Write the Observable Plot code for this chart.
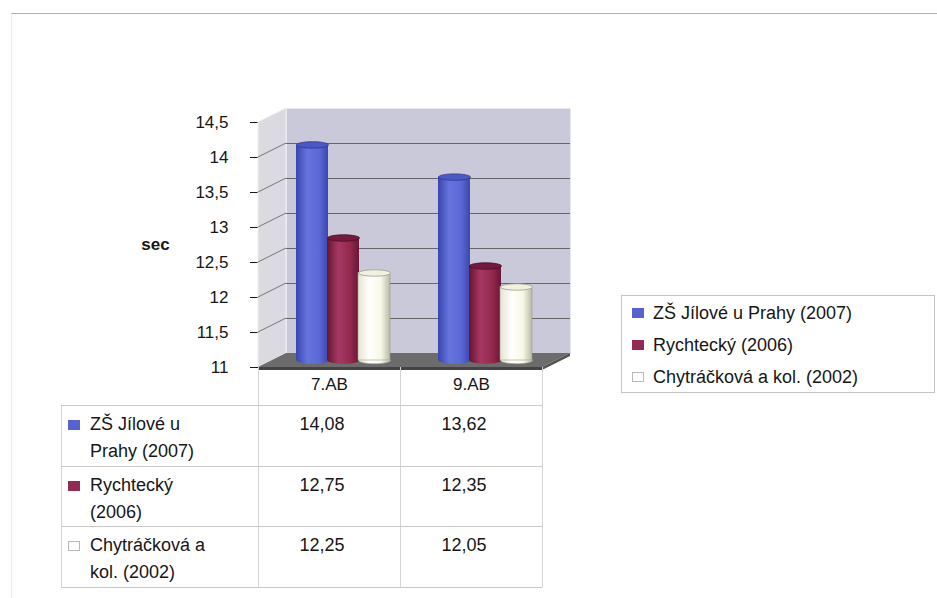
<!DOCTYPE html>
<html>
<head>
<meta charset="utf-8">
<script src="https://cdn.jsdelivr.net/npm/d3@7"></script>
<script src="https://cdn.jsdelivr.net/npm/@observablehq/plot@0.6"></script>
<style>
  body { margin: 0; background: #fff; }
  #chart { position: relative; width: 937px; height: 598px; font-family: "Liberation Sans", Arial, sans-serif; color: #161616; }
  #chart svg { position: absolute; left: 0; top: 0; }
  .abs { position: absolute; }
  .hl { position: absolute; height: 1px; background: #c9c9c9; }
  .vl { position: absolute; width: 1px; background: #d4d4d4; }
  .cell { position: absolute; font-size: 18px; line-height: 27px; white-space: nowrap; }
  .sw { position: absolute; width: 12px; height: 10px; box-sizing: border-box; }
</style>
</head>
<body>
<div id="chart"></div>
<script>
// Categories (classes) and the three compared studies
const groups = ["7.AB", "9.AB"];
const series = ["ZŠ Jílové u Prahy (2007)", "Rychtecký (2006)", "Chytráčková a kol. (2002)"];
const tableLabels = [["ZŠ Jílové u", "Prahy (2007)"], ["Rychtecký", "(2006)"], ["Chytráčková a", "kol. (2002)"]];

// Running times in seconds, one value per class
const valuesJilove = [14.08, 13.62];
const valuesRychtecky = [12.75, 12.35];
const valuesChytrackova = [12.25, 12.05];
const seriesValues = [valuesJilove, valuesRychtecky, valuesChytrackova];

// Value axis
const yDomain = [11, 14.5];
const yTicks = [11, 11.5, 12, 12.5, 13, 13.5, 14, 14.5];
const yLabel = "sec";

// Colours
const swatchColors = ["#5662d2", "#922b54", "#ffffff"];
const shadeStops = [
  ["#3a45ad", "#6674de", "#5b68d6", "#3c47ae"],
  ["#66142f", "#a53863", "#93294f", "#6a1634"],
  ["#e4e4cf", "#ffffff", "#f8f8e6", "#b9b9a6"]
];
const topFill = ["#4c58c4", "#741a3d", "#f1f1df"];
const topStroke = ["#2e3690", "#4a0e25", "#9a9a8c"];

const fmt = v => String(v).replace(".", ",");
const fmt2 = v => v.toFixed(2).replace(".", ",");

const rows = groups.flatMap((g, gi) => series.map((s, si) => ({group: g, series: s, si, value: seriesValues[si][gi]})));

// Pseudo-3D depth of the chart box and of the cylinders (half depth)
const depth = {dx: 28, dy: -14};
const mid = {dx: 14, dy: -7};
const barWidth = 32, barStep = 31;

// Ellipse symbol used for the cylinder caps
const ellipse = {
  draw(ctx, size) {
    const rx = Math.sqrt(size / Math.PI), ry = rx * 0.2, k = 0.5523;
    ctx.moveTo(rx, 0);
    ctx.bezierCurveTo(rx, ry * k, rx * k, ry, 0, ry);
    ctx.bezierCurveTo(-rx * k, ry, -rx, ry * k, -rx, 0);
    ctx.bezierCurveTo(-rx, -ry * k, -rx * k, -ry, 0, -ry);
    ctx.bezierCurveTo(rx * k, -ry, rx, -ry * k, rx, 0);
    ctx.closePath();
  }
};

function gradients() {
  const defs = d3.create("svg:defs");
  shadeStops.forEach((stops, i) => {
    const lg = defs.append("linearGradient").attr("id", "cyl" + i).attr("x1", 0).attr("x2", 1).attr("y1", 0).attr("y2", 0);
    [0, 0.35, 0.72, 1].forEach((o, j) => lg.append("stop").attr("offset", o).attr("stop-color", stops[j]));
  });
  return defs.node();
}

// Left side wall with its slanted grid lines
function sideWall(index, scales, values, dims) {
  const L = dims.marginLeft;
  const y0 = scales.y(yDomain[0]), y1 = scales.y(yDomain[1]);
  const g = d3.create("svg:g");
  g.append("path")
    .attr("d", `M${L},${y0}V${y1}L${L + depth.dx},${y1 + depth.dy}V${y0 + depth.dy}Z`)
    .attr("fill", "#dadae0").attr("stroke", "#eeeef2");
  yTicks.filter(t => t > yDomain[0] && t < yDomain[1]).forEach(t => {
    const y = scales.y(t);
    g.append("line").attr("x1", L).attr("y1", y).attr("x2", L + depth.dx).attr("y2", y + depth.dy)
      .attr("stroke", "#6a6a6a").attr("stroke-width", 0.9);
  });
  return g.node();
}

// Dark floor slab
function floor(index, scales, values, dims) {
  const L = dims.marginLeft, R = dims.width - dims.marginRight;
  const y0 = scales.y(yDomain[0]), t = 3;
  const g = d3.create("svg:g");
  g.append("path").attr("d", `M${L},${y0}H${R}L${R + depth.dx},${y0 + depth.dy}H${L + depth.dx}Z`).attr("fill", "#6c6c6c");
  g.append("path").attr("d", `M${L},${y0}H${R}v${t}H${L}Z`).attr("fill", "#444");
  g.append("path").attr("d", `M${R},${y0}L${R + depth.dx},${y0 + depth.dy}v${t}L${R},${y0 + t}Z`).attr("fill", "#525252");
  return g.node();
}

const bandwidth = (937 - 258 - 395) / groups.length;

const cylinderMarks = series.flatMap((s, i) => {
  const data = rows.filter(d => d.si === i);
  const off = (i - 1) * barStep;
  return [
    Plot.dot(data, {x: "group", y: () => yDomain[0], r: barWidth / 2, symbol: ellipse,
      fill: `url(#cyl${i})`, stroke: i === 2 ? "#9a9a8c" : "none", strokeWidth: 0.6, dx: mid.dx + off, dy: mid.dy}),
    Plot.barY(data, {x: "group", y1: () => yDomain[0], y2: "value",
      insetLeft: bandwidth / 2 + off - barWidth / 2, insetRight: bandwidth / 2 - off - barWidth / 2,
      fill: `url(#cyl${i})`, stroke: i === 2 ? "#9a9a8c" : "none", strokeWidth: 0.6, dx: mid.dx, dy: mid.dy}),
    Plot.dot(data, {x: "group", y: "value", r: barWidth / 2, symbol: ellipse,
      fill: topFill[i], stroke: topStroke[i], strokeWidth: 0.8, dx: mid.dx + off, dy: mid.dy})
  ];
});

const plot = Plot.plot({
  width: 937,
  height: 598,
  marginLeft: 258,
  marginRight: 395,
  marginTop: 122,
  marginBottom: 231,
  style: {fontFamily: "'Liberation Sans', Arial, sans-serif", fontSize: "17px", color: "#161616", background: "transparent", overflow: "visible"},
  x: {type: "band", domain: groups, padding: 0, tickSize: 0, tickPadding: 10, label: null},
  y: {domain: yDomain, ticks: yTicks, tickFormat: fmt, tickSize: 8, tickPadding: 22, label: null},
  marks: [
    gradients,
    Plot.frame({fill: "#c9c9d9", stroke: "#e6e6ee", dx: depth.dx, dy: depth.dy}),
    sideWall,
    Plot.ruleY(yTicks.filter(t => t > yDomain[0] && t < yDomain[1]), {stroke: "#5a5a5a", strokeWidth: 0.9, dx: depth.dx, dy: depth.dy}),
    floor,
    ...cylinderMarks,
    Plot.text([yLabel], {frameAnchor: "left", y: [(yDomain[0] + yDomain[1]) / 2], dx: -103, textAnchor: "middle", fontWeight: "bold", fontSize: 17})
  ]
});

const chart = document.getElementById("chart");
chart.appendChild(plot);
d3.select(plot).selectAll("g[aria-label='y-axis'] line, g[aria-label='y-axis'] .tick line").attr("stroke", "#8a8a8a");

// Outer chart border
const border = document.createElement("div");
border.className = "abs";
Object.assign(border.style, {left: "11px", top: "13px", width: "926px", height: "600px", borderTop: "1px solid #b0b0b0", borderLeft: "1px solid #ececec"});
chart.prepend(border);

function el(cls, styles, text) {
  const d = document.createElement("div");
  d.className = cls;
  Object.assign(d.style, styles);
  if (text != null) d.textContent = text;
  chart.appendChild(d);
  return d;
}
function swatch(i, left, top) {
  el("sw", {left: left + "px", top: top + "px", background: swatchColors[i], border: i === 2 ? "1px solid #b8b8b8" : "none"});
}

// Data table under the plot, aligned with the x scale
const xs = plot.scale("x");
const ys = plot.scale("y");
const colLeft = groups.map(g => xs.apply(g));
const bw = xs.bandwidth;
const tableLeft = 61;
const tableRight = colLeft[colLeft.length - 1] + bw;
const headTop = ys.apply(yDomain[0]);
const headBottom = 405;
const rowH = 60.5;
const tableBottom = headBottom + rowH * series.length;

colLeft.concat([tableRight]).forEach(x => el("vl", {left: x + "px", top: headTop + "px", height: (tableBottom - headTop) + "px"}));
el("vl", {left: tableLeft + "px", top: headBottom + "px", height: (tableBottom - headBottom) + "px"});
for (let r = 0; r <= series.length; r++) {
  el("hl", {left: tableLeft + "px", top: (headBottom + r * rowH) + "px", width: (tableRight - tableLeft) + "px"});
}
series.forEach((s, i) => {
  const top = headBottom + i * rowH;
  swatch(i, 68, top + 15);
  const lab = el("cell", {left: "90px", top: (top + 6) + "px"});
  lab.innerHTML = tableLabels[i].join("<br>");
  groups.forEach((g, gi) => {
    el("cell", {left: colLeft[gi] + "px", width: (bw - 14) + "px", top: (top + 6) + "px", textAlign: "center"}, fmt2(seriesValues[i][gi]));
  });
});

// Legend box at the right
const legend = {left: 621, top: 295, width: 314, height: 98};
el("abs", {left: legend.left + "px", top: legend.top + "px", width: legend.width + "px", height: legend.height + "px", border: "1px solid #c4c4c4", boxSizing: "border-box"});
series.forEach((s, i) => {
  const cy = 313 + i * 32;
  swatch(i, 632, cy - 5);
  el("cell", {left: "653px", top: (cy - 13.5) + "px"}, s);
});
</script>
</body>
</html>
